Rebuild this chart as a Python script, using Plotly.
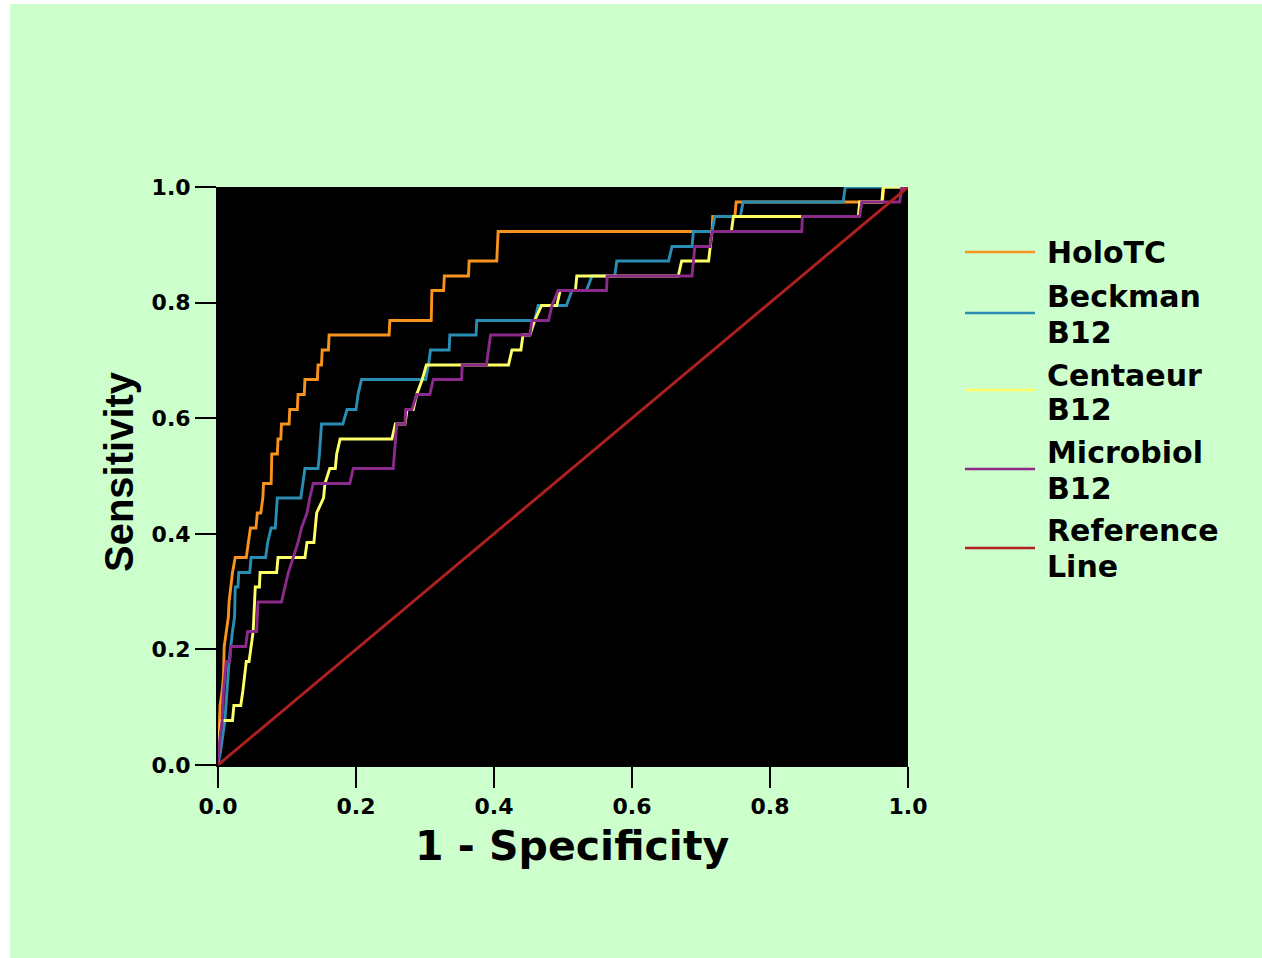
import plotly.graph_objects as go

# ---------------- data ----------------
holotc_fpr = [0, 0.002, 0.003, 0.006, 0.008, 0.009, 0.012, 0.015, 0.016, 0.018,
              0.021, 0.025, 0.041, 0.044, 0.047, 0.055, 0.057, 0.062, 0.065, 0.066,
              0.077, 0.078, 0.086, 0.087, 0.091, 0.092, 0.103, 0.104, 0.115, 0.116,
              0.125, 0.126, 0.144, 0.145, 0.150, 0.151, 0.160, 0.161, 0.248, 0.249,
              0.309, 0.310, 0.327, 0.328, 0.363, 0.364, 0.404, 0.406, 0.716, 0.717,
              0.749, 0.751, 0.963, 0.965, 1.0]
holotc_tpr = [0, 0.051, 0.103, 0.128, 0.154, 0.205, 0.231, 0.256, 0.282, 0.308,
              0.333, 0.359, 0.359, 0.385, 0.410, 0.410, 0.436, 0.436, 0.462, 0.487,
              0.487, 0.538, 0.538, 0.564, 0.564, 0.590, 0.590, 0.615, 0.615, 0.641,
              0.641, 0.667, 0.667, 0.692, 0.692, 0.718, 0.718, 0.744, 0.744, 0.769,
              0.769, 0.821, 0.821, 0.846, 0.846, 0.872, 0.872, 0.923, 0.923, 0.949,
              0.949, 0.974, 0.974, 1.0, 1.0]

beckman_fpr = [0, 0.004, 0.010, 0.013, 0.016, 0.021, 0.024, 0.025, 0.029, 0.030,
               0.046, 0.048, 0.069, 0.072, 0.077, 0.083, 0.085, 0.086, 0.120, 0.123,
               0.126, 0.145, 0.147, 0.150, 0.181, 0.187, 0.200, 0.203, 0.208, 0.301,
               0.305, 0.308, 0.335, 0.336, 0.374, 0.375, 0.459, 0.464, 0.505, 0.513,
               0.534, 0.542, 0.575, 0.578, 0.653, 0.658, 0.687, 0.689, 0.716, 0.720,
               0.757, 0.761, 0.906, 0.909, 1.0]
beckman_tpr = [0, 0.026, 0.077, 0.128, 0.179, 0.231, 0.256, 0.308, 0.308, 0.333,
               0.333, 0.359, 0.359, 0.385, 0.410, 0.410, 0.436, 0.462, 0.462, 0.487,
               0.513, 0.513, 0.538, 0.590, 0.590, 0.615, 0.615, 0.641, 0.667, 0.667,
               0.692, 0.718, 0.718, 0.744, 0.744, 0.769, 0.769, 0.795, 0.795, 0.821,
               0.821, 0.846, 0.846, 0.872, 0.872, 0.897, 0.897, 0.923, 0.923, 0.949,
               0.949, 0.974, 0.974, 1.0, 1.0]

centaeur_fpr = [0, 0.002, 0.005, 0.021, 0.023, 0.033, 0.036, 0.041, 0.045, 0.051,
                0.054, 0.060, 0.061, 0.085, 0.087, 0.126, 0.129, 0.139, 0.143, 0.153,
                0.155, 0.162, 0.170, 0.172, 0.177, 0.252, 0.257, 0.271, 0.274, 0.283,
                0.288, 0.296, 0.302, 0.421, 0.426, 0.439, 0.442, 0.452, 0.459, 0.469,
                0.491, 0.496, 0.518, 0.520, 0.667, 0.672, 0.711, 0.716, 0.744, 0.747,
                0.928, 0.930, 0.962, 0.964, 1.0]
centaeur_tpr = [0, 0.051, 0.077, 0.077, 0.103, 0.103, 0.128, 0.179, 0.179, 0.231,
                0.308, 0.308, 0.333, 0.333, 0.359, 0.359, 0.385, 0.385, 0.436, 0.462,
                0.487, 0.513, 0.513, 0.538, 0.564, 0.564, 0.590, 0.590, 0.615, 0.615,
                0.641, 0.667, 0.692, 0.692, 0.718, 0.718, 0.744, 0.744, 0.769, 0.795,
                0.795, 0.821, 0.821, 0.846, 0.846, 0.872, 0.872, 0.923, 0.923, 0.949,
                0.949, 0.974, 0.974, 1.0, 1.0]

microbiol_fpr = [0, 0.003, 0.006, 0.008, 0.012, 0.017, 0.019, 0.040, 0.043, 0.056,
                 0.058, 0.092, 0.097, 0.102, 0.109, 0.116, 0.121, 0.129, 0.133, 0.138,
                 0.191, 0.196, 0.254, 0.259, 0.271, 0.272, 0.281, 0.288, 0.307, 0.312,
                 0.353, 0.354, 0.389, 0.395, 0.452, 0.455, 0.479, 0.484, 0.493, 0.563,
                 0.564, 0.687, 0.691, 0.713, 0.716, 0.846, 0.847, 0.930, 0.933, 0.988,
                 0.991, 1.0]
microbiol_tpr = [0, 0.051, 0.077, 0.128, 0.179, 0.179, 0.205, 0.205, 0.231, 0.231,
                 0.282, 0.282, 0.308, 0.333, 0.359, 0.385, 0.410, 0.436, 0.462, 0.487,
                 0.487, 0.513, 0.513, 0.590, 0.590, 0.615, 0.615, 0.641, 0.641, 0.667,
                 0.667, 0.692, 0.692, 0.744, 0.744, 0.769, 0.769, 0.795, 0.821, 0.821,
                 0.846, 0.846, 0.897, 0.897, 0.923, 0.923, 0.949, 0.949, 0.974, 0.974,
                 1.0, 1.0]

reference_fpr = [0, 1]
reference_tpr = [0, 1]

tick_vals = [0.0, 0.2, 0.4, 0.6, 0.8, 1.0]
tick_text = ["0.0", "0.2", "0.4", "0.6", "0.8", "1.0"]

series = [
    ("HoloTC", holotc_fpr, holotc_tpr, "#F7931E"),
    ("Beckman B12", beckman_fpr, beckman_tpr, "#2A8DB3"),
    ("Centaeur B12", centaeur_fpr, centaeur_tpr, "#FFFF66"),
    ("Microbiol B12", microbiol_fpr, microbiol_tpr, "#8B2A8B"),
    ("Reference Line", reference_fpr, reference_tpr, "#B0201E"),
]
legend_lines = [
    ["HoloTC"],
    ["Beckman", "B12"],
    ["Centaeur", "B12"],
    ["Microbiol", "B12"],
    ["Reference", "Line"],
]

# ---------------- geometry helpers (pixels -> paper) ----------------
W, H = 1262, 958
L, R, T, B = 218, 908, 187, 765


def px(x):
    return (x - L) / (R - L)


def py(y):
    return (B - y) / (B - T)


fig = go.Figure()
for name, xs, ys, col in series:
    fig.add_trace(go.Scatter(x=xs, y=ys, mode="lines", name=name,
                             line=dict(color=col, width=2.9),
                             showlegend=False, hoverinfo="skip"))

shapes = [
    # white frame strips around the green panel
    dict(type="rect", xref="paper", yref="paper", x0=px(0), x1=px(10), y0=py(H), y1=py(0),
         fillcolor="white", line_width=0, layer="below"),
    dict(type="rect", xref="paper", yref="paper", x0=px(0), x1=px(W), y0=py(4), y1=py(0),
         fillcolor="white", line_width=0, layer="below"),
]
annotations = []

# manual legend
legend_line_y = [252, 313, 390, 469, 548]
legend_text_y = [[252.5], [296, 332], [375, 409], [453, 488], [530, 566]]
for (name, xs, ys, col), ly, lines, tys in zip(series, legend_line_y, legend_lines, legend_text_y):
    shapes.append(dict(type="line", xref="paper", yref="paper",
                       x0=px(965), x1=px(1035), y0=py(ly), y1=py(ly),
                       line=dict(color=col, width=2.6)))
    for txt, ty in zip(lines, tys):
        annotations.append(dict(text=txt, xref="paper", yref="paper",
                                x=px(1045), y=py(ty), xanchor="left", yanchor="middle",
                                showarrow=False,
                                font=dict(family="DejaVu Sans", size=30, weight="bold", color="black")))

# axis titles
annotations.append(dict(text="1 - Specificity", xref="paper", yref="paper",
                        x=px(572), y=py(846), xanchor="center", yanchor="middle",
                        showarrow=False,
                        font=dict(family="DejaVu Sans", size=41, weight="bold", color="black")))
annotations.append(dict(text="Sensitivity", xref="paper", yref="paper", textangle=-90,
                        x=px(119), y=py(472), xanchor="center", yanchor="middle",
                        showarrow=False,
                        font=dict(family="Liberation Sans", size=40, weight="bold", color="black")))

axis_common = dict(
    range=[0, 1], tickvals=tick_vals, ticktext=tick_text,
    showgrid=False, zeroline=False, showline=True, linecolor="black", linewidth=2,
    ticks="outside", ticklen=21, tickwidth=2, tickcolor="black",
    tickfont=dict(family="DejaVu Sans", size=22, weight="bold", color="black"),
    fixedrange=True,
)

fig.update_layout(
    width=W, height=H, autosize=False,
    margin=dict(l=L, r=W - R, t=T, b=H - B, pad=0),
    paper_bgcolor="#CCFFCC", plot_bgcolor="black",
    xaxis=axis_common, yaxis=axis_common,
    shapes=shapes, annotations=annotations,
    showlegend=False,
)

fig.write_html("out.html")
